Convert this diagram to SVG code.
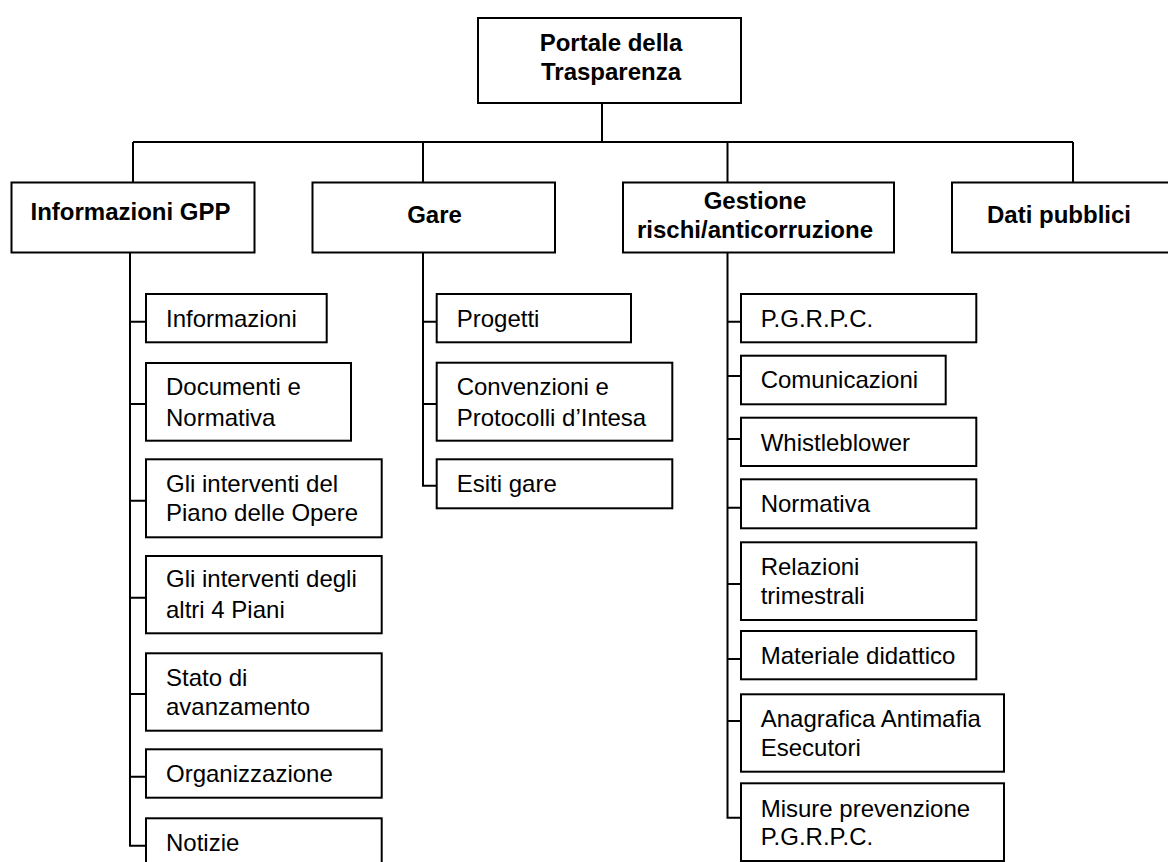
<svg xmlns="http://www.w3.org/2000/svg" width="1168" height="862" viewBox="0 0 1168 862">
<style>
.box{fill:#fff;stroke:#000;stroke-width:2}
.conn{fill:none;stroke:#000;stroke-width:2}
text{font-family:"Liberation Sans",Arial,sans-serif;font-size:24px;fill:#000}
.b{font-weight:bold;text-anchor:middle}
</style>
<rect width="1168" height="862" fill="#fff"/>
<g id="connectors">
<path class="conn" d="M602 103V142M133 142H1073M133 142V182.5M423 142V182.5M727.5 142V182.5M1073 142V182.5"/>
<path class="conn" d="M130 252.5V845.7H146M130 321.7H146M130 404H146M130 500.7H146M130 597.7H146M130 694H146M130 776.7H146"/>
<path class="conn" d="M423 252.5V485.7H436.7M423 321.7H436.7M423 404H436.7"/>
<path class="conn" d="M727.5 252.5V817.7H741M727.5 321.7H741M727.5 376H741M727.5 439H741M727.5 507.7H741M727.5 584H741M727.5 659H741M727.5 721H741"/>
</g>
<g id="root"><rect class="box" x="478" y="18" width="263" height="85"/><text class="b" x="611" y="50.5">Portale della</text><text class="b" x="611" y="79.5">Trasparenza</text></g>
<g id="info-gpp"><rect class="box" x="11.5" y="182.5" width="243" height="70"/><text class="b" x="130.5" y="220">Informazioni GPP</text></g>
<g id="gare"><rect class="box" x="312.5" y="182.5" width="242.5" height="70"/><text class="b" x="434.5" y="222.5">Gare</text></g>
<g id="gestione"><rect class="box" x="623" y="182.5" width="271" height="70"/><text class="b" x="755" y="209">Gestione</text><text class="b" x="755" y="237.5">rischi/anticorruzione</text></g>
<g id="dati"><rect class="box" x="952" y="182.5" width="218" height="70"/><text class="b" x="1059" y="222.5">Dati pubblici</text></g>

<g id="informazioni"><rect class="box" x="146" y="294" width="180.7" height="48.3"/><text x="166" y="326.7">Informazioni</text></g>
<g id="documenti"><rect class="box" x="146" y="363" width="205" height="77.7"/><text x="166" y="395">Documenti e</text><text x="166" y="425.7">Normativa</text></g>
<g id="piano-opere"><rect class="box" x="146" y="459.3" width="235.7" height="78"/><text x="166" y="492.3">Gli interventi del</text><text x="166" y="520.7">Piano delle Opere</text></g>
<g id="altri-piani"><rect class="box" x="146" y="556" width="235.7" height="77.3"/><text x="166" y="586.7">Gli interventi degli</text><text x="166" y="618.3">altri 4 Piani</text></g>
<g id="stato"><rect class="box" x="146" y="653.3" width="235.7" height="77.4"/><text x="166" y="685.7">Stato di</text><text x="166" y="715">avanzamento</text></g>
<g id="organizzazione"><rect class="box" x="146" y="749.3" width="235.7" height="48.4"/><text x="166" y="782.3">Organizzazione</text></g>
<g id="notizie"><rect class="box" x="146" y="818.3" width="235.7" height="70"/><text x="166" y="850.7">Notizie</text></g>

<g id="progetti"><rect class="box" x="436.7" y="294" width="194.3" height="48.3"/><text x="456.7" y="326.7">Progetti</text></g>
<g id="convenzioni"><rect class="box" x="436.7" y="362.7" width="235.6" height="78"/><text x="456.7" y="395">Convenzioni e</text><text x="456.7" y="425.7">Protocolli d’Intesa</text></g>
<g id="esiti"><rect class="box" x="436.7" y="459.3" width="235.6" height="49"/><text x="456.7" y="492.3">Esiti gare</text></g>

<g id="pgrpc"><rect class="box" x="741" y="294" width="235.3" height="48.3"/><text x="760.7" y="326.7">P.G.R.P.C.</text></g>
<g id="comunicazioni"><rect class="box" x="741" y="355.7" width="204.7" height="48.6"/><text x="760.7" y="388.3">Comunicazioni</text></g>
<g id="whistleblower"><rect class="box" x="741" y="417.7" width="235.3" height="48.3"/><text x="760.7" y="450.7">Whistleblower</text></g>
<g id="normativa"><rect class="box" x="741" y="479.3" width="235.3" height="49"/><text x="760.7" y="512.3">Normativa</text></g>
<g id="relazioni"><rect class="box" x="741" y="542.3" width="235.3" height="77.7"/><text x="760.7" y="575">Relazioni</text><text x="760.7" y="604">trimestrali</text></g>
<g id="materiale"><rect class="box" x="741" y="631" width="235.3" height="48.3"/><text x="760.7" y="664.3">Materiale didattico</text></g>
<g id="anagrafica"><rect class="box" x="741" y="694.3" width="263" height="77.4"/><text x="760.7" y="726.7">Anagrafica Antimafia</text><text x="760.7" y="756">Esecutori</text></g>
<g id="misure"><rect class="box" x="741" y="783.3" width="263" height="77.7"/><text x="760.7" y="816.7">Misure prevenzione</text><text x="760.7" y="845">P.G.R.P.C.</text></g>
</svg>
